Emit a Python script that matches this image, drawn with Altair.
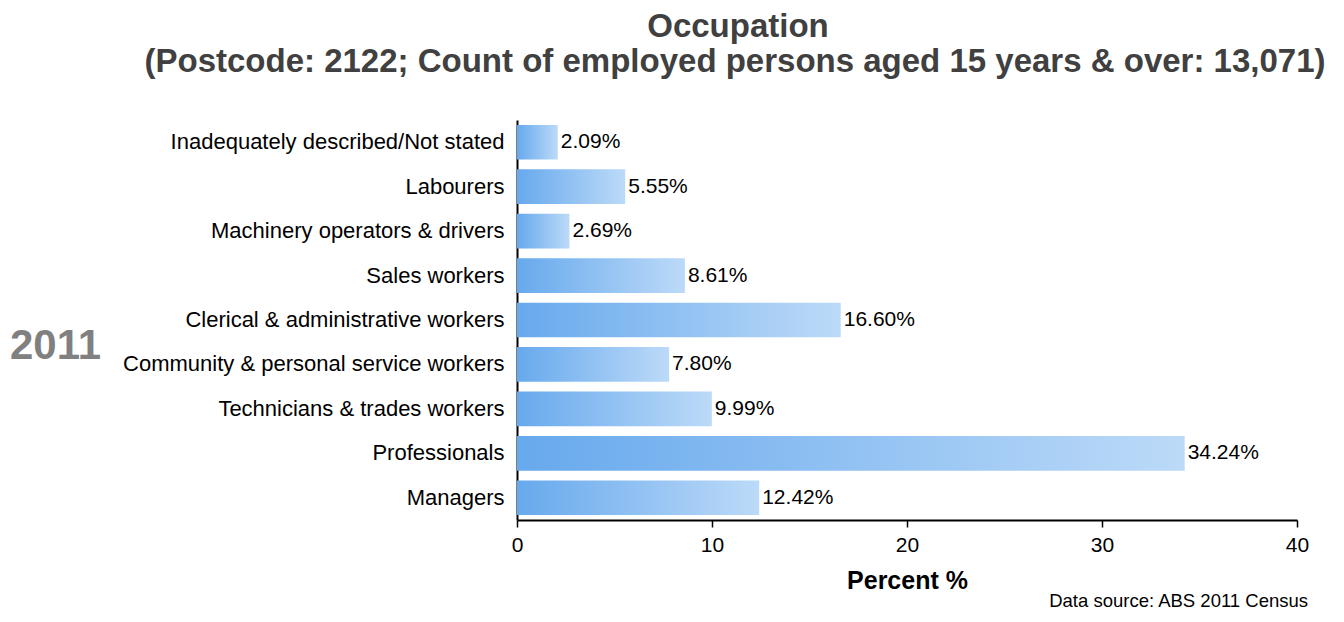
import altair as alt
import pandas as pd

categories = [
    "Inadequately described/Not stated",
    "Labourers",
    "Machinery operators & drivers",
    "Sales workers",
    "Clerical & administrative workers",
    "Community & personal service workers",
    "Technicians & trades workers",
    "Professionals",
    "Managers",
]
values = [2.09, 5.55, 2.69, 8.61, 16.60, 7.80, 9.99, 34.24, 12.42]
x_ticks = [0, 10, 20, 30, 40]

title_line1 = "Occupation"
title_line2 = "(Postcode: 2122; Count of employed persons aged 15 years & over: 13,071)"
year_label = "2011"
source_label = "Data source: ABS 2011 Census"

df = pd.DataFrame({"cat": categories, "val": values})
df["lbl"] = [f"{v:.2f}%" for v in values]

FONT = "Liberation Sans"

grad = alt.Gradient(
    gradient="linear",
    stops=[alt.GradientStop(color="#67a9ed", offset=0),
           alt.GradientStop(color="#bcdaf8", offset=1)],
    x1=0, x2=1, y1=0, y2=0,
)

y_enc = alt.Y("cat:N", sort=categories, title=None,
              scale=alt.Scale(paddingInner=0.22, paddingOuter=0.11),
              axis=alt.Axis(ticks=False, labelPadding=13, labelFontSize=22,
                            labelFont=FONT, labelColor="#000000",
                            domainColor="#000000", domainWidth=2, labelLimit=700))
x_enc = alt.X("val:Q", title="Percent %",
              scale=alt.Scale(domain=[0, 40], nice=False),
              axis=alt.Axis(values=x_ticks, grid=False, tickSize=7, tickColor="#000000",
                            tickWidth=1.5, domainColor="#000000", domainWidth=2,
                            labelFontSize=21, labelFont=FONT, labelColor="#000000",
                            labelPadding=7, labelFlush=False, titleFontSize=25, titleFont=FONT,
                            titleFontWeight="bold", titleColor="#000000", titlePadding=13))

bars = alt.Chart(df).mark_bar(color=grad).encode(x=x_enc, y=y_enc)
labels = alt.Chart(df).mark_text(align="left", baseline="middle", dx=3,
                                 fontSize=21, font=FONT, color="#000000").encode(
    x="val:Q", y=alt.Y("cat:N", sort=categories), text="lbl:N")

def txt(s, x, y, size, color, weight="normal", align="center", baseline="alphabetic"):
    return alt.Chart(pd.DataFrame({"t": [s]})).mark_text(
        font=FONT, fontSize=size, color=color, fontWeight=weight,
        align=align, baseline=baseline).encode(
        x=alt.value(x), y=alt.value(y), text="t:N")

t1 = txt(title_line1, 221, -83, 33, "#404040", "bold")
t2 = txt(title_line2, 218, -48, 33, "#404040", "bold")
t3 = txt(year_label, -507, 226, 42, "#808080", "bold", align="left", baseline="middle")
t4 = txt(source_label, 791, 487, 18.5, "#000000", align="right")

chart = alt.layer(bars, labels, t1, t2, t3, t4).properties(
    width=780, height=400,
    autosize=alt.AutoSizeParams(type="none"),
    padding={"left": 509, "top": 112, "right": 39, "bottom": 94},
).configure(background="#ffffff").configure_view(stroke=None, strokeWidth=0)

chart.save("out.html", embed_options={"renderer": "svg", "actions": False})
